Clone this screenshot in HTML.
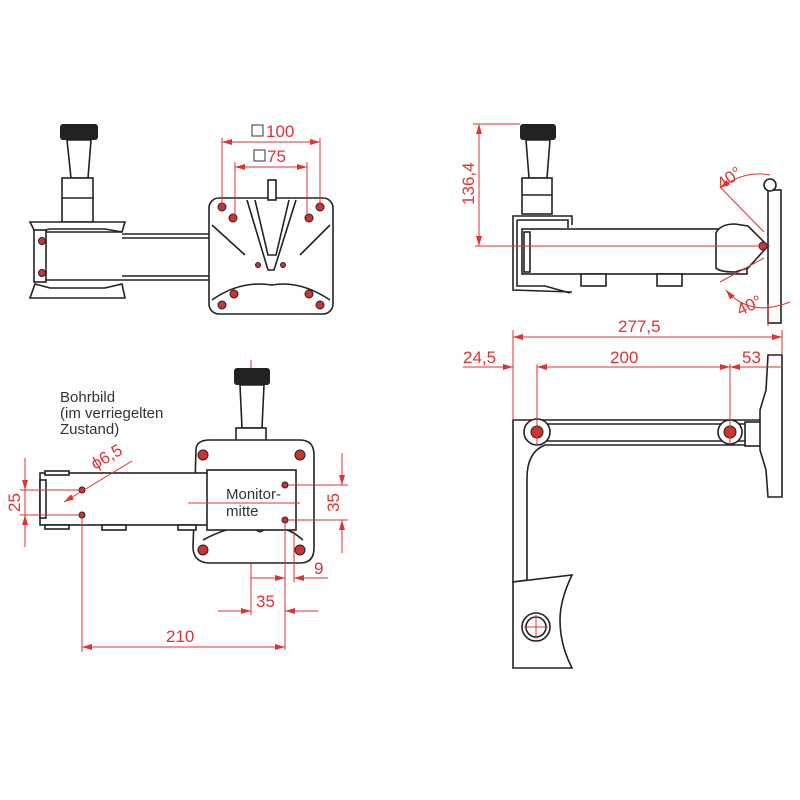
<!DOCTYPE html>
<html><head><meta charset="utf-8"><style>
html,body{margin:0;padding:0;background:#fff;width:800px;height:800px;overflow:hidden}
svg{display:block}
.k{fill:none;stroke:#222;stroke-width:1.6}
.kf{fill:#fff;stroke:#222;stroke-width:1.6}
.r{fill:none;stroke:#d33;stroke-width:1}
.rt{fill:#d33;font-family:"Liberation Sans",sans-serif;font-size:17px}
.bt{fill:#333;font-family:"Liberation Sans",sans-serif;font-size:15px}
.h{fill:#c33;stroke:#222;stroke-width:1}
</style></head><body>
<svg width="800" height="800" viewBox="0 0 800 800" xmlns="http://www.w3.org/2000/svg">
<defs>
<marker id="a" viewBox="0 0 10 6" refX="10" refY="3" markerWidth="10" markerHeight="6" orient="auto-start-reverse"><path d="M0,0L10,3L0,6z" fill="#d33"/></marker>
</defs>

<!-- ===== TOP LEFT VIEW ===== -->
<rect x="60" y="124" width="38" height="16" rx="3" fill="#222"/>
<path class="kf" d="M67,140 L91,140 L88,178 L71,178Z"/>
<rect class="kf" x="62" y="178" width="31" height="44"/>
<line class="k" x1="62" y1="198" x2="93" y2="198"/>
<path class="kf" d="M30,222 L125,222 L122,232 L105,229 L50,229 L35,232Z"/>
<rect class="kf" x="34" y="230" width="12" height="52"/>
<line class="k" x1="46" y1="232" x2="122" y2="232"/>
<line class="k" x1="46" y1="280" x2="122" y2="280"/>
<path class="kf" d="M30,298 L125,298 L122,284 L105,288 L50,288 L35,284Z"/>
<line class="k" x1="122" y1="234" x2="210" y2="234"/>
<line class="k" x1="122" y1="238" x2="210" y2="238"/>
<line class="k" x1="122" y1="276" x2="210" y2="276"/>
<line class="k" x1="122" y1="280" x2="210" y2="280"/>
<circle class="h" cx="42" cy="241" r="3.5"/><circle class="h" cx="42" cy="273" r="3.5"/>
<rect class="kf" x="209" y="198" width="124" height="116" rx="10"/>
<path class="k" d="M247,200 L268,270 L274,270 L296,200"/>
<path class="k" d="M255,200 L268,255 L276,255 L289,200"/>
<rect class="kf" x="268" y="180" width="8" height="20"/>
<path class="k" d="M212,300 Q240,280 272,285 Q300,280 330,300"/>
<path class="k" d="M212,225 L245,255 M330,225 L300,255"/>
<circle class="h" cx="222" cy="207" r="4"/><circle class="h" cx="320" cy="207" r="4"/>
<circle class="h" cx="233" cy="218" r="4"/><circle class="h" cx="309" cy="218" r="4"/>
<circle class="h" cx="222" cy="305" r="4"/><circle class="h" cx="234" cy="294" r="4"/>
<circle class="h" cx="309" cy="294" r="4"/><circle class="h" cx="320" cy="305" r="4"/>
<circle class="h" cx="258" cy="265" r="2.5"/><circle class="h" cx="283" cy="265" r="2.5"/>
<line class="r" x1="222" y1="138" x2="222" y2="205"/><line class="r" x1="320" y1="138" x2="320" y2="205"/>
<line class="r" x1="222" y1="142" x2="320" y2="142" marker-start="url(#a)" marker-end="url(#a)"/>
<line class="r" x1="235" y1="162" x2="235" y2="215"/><line class="r" x1="307" y1="162" x2="307" y2="215"/>
<line class="r" x1="235" y1="167" x2="307" y2="167" marker-start="url(#a)" marker-end="url(#a)"/>
<rect class="r" x="252" y="125" width="11" height="11" style="stroke:#333"/>
<text class="rt" x="266" y="137">100</text>
<rect class="r" x="254" y="150" width="11" height="11" style="stroke:#333"/>
<text class="rt" x="267" y="162">75</text>

<!-- ===== TOP RIGHT VIEW ===== -->
<rect x="520" y="124" width="36" height="16" rx="3" fill="#222"/>
<path class="kf" d="M526,140 L550,140 L547,178 L529,178Z"/>
<rect class="kf" x="522" y="178" width="30" height="36"/>
<line class="k" x1="522" y1="195" x2="552" y2="195"/>
<path class="k" d="M572,225 L572,216 L513,216 L513,290 L572,292"/>
<path class="k" d="M517,220 L568,220 L568,228 M517,220 L517,286 L545,286 L570,293"/>
<rect class="kf" x="522" y="229" width="225" height="45"/>
<rect class="k" x="524" y="232" width="6" height="40"/>
<rect class="kf" x="581" y="274" width="25" height="12"/><rect class="kf" x="657" y="274" width="25" height="12"/>
<path class="kf" d="M716,233 Q720,224 735,224 L748,226 L768,246 L748,268 L735,272 Q720,272 716,268Z"/>
<rect class="kf" x="768" y="190" width="13" height="133"/>
<circle class="kf" cx="770" cy="185" r="6"/>
<circle class="h" cx="763" cy="246" r="4"/>
<line class="r" x1="475" y1="246" x2="770" y2="246"/>
<line class="r" x1="473" y1="124" x2="520" y2="124"/>
<line class="r" x1="479" y1="124" x2="479" y2="246" marker-start="url(#a)" marker-end="url(#a)"/>
<text class="rt" transform="translate(474,205) rotate(-90)">136,4</text>
<path class="r" d="M720,188 Q745,170 770,175" marker-start="url(#a)"/>
<line class="r" x1="720" y1="187" x2="764" y2="232"/>
<line class="r" x1="720" y1="282" x2="764" y2="258"/>
<path class="r" d="M726,290 Q750,318 790,302" marker-start="url(#a)"/>
<line class="r" x1="768" y1="326" x2="768" y2="304"/>
<text class="rt" transform="translate(722,190) rotate(-35)">40°</text>
<text class="rt" transform="translate(740,316) rotate(-25)">40°</text>

<!-- ===== BOTTOM LEFT VIEW ===== -->
<line class="r" x1="251" y1="360" x2="251" y2="615"/>
<rect x="234" y="368" width="36" height="17" rx="3" fill="#222"/>
<path class="kf" d="M240,385 L264,385 L262,428 L242,428Z"/>
<rect class="kf" x="236" y="428" width="30" height="36"/>
<path class="kf" d="M196,450 Q196,440 210,440 L300,440 Q314,440 314,455 L314,548 Q314,563 300,563 L210,563 Q194,563 193,548Z"/>
<path class="k" d="M203,540 Q240,520 260,532 Q280,520 303,540"/>
<circle class="h" cx="203" cy="455" r="5"/><circle class="h" cx="300" cy="455" r="5"/>
<circle class="h" cx="203" cy="550" r="5"/><circle class="h" cx="300" cy="550" r="5"/>
<rect class="kf" x="40" y="473" width="172" height="52"/>
<rect class="kf" x="40" y="480" width="6" height="38"/>
<rect class="kf" x="45" y="471" width="24" height="4"/><rect class="kf" x="45" y="525" width="24" height="4"/>
<rect class="kf" x="102" y="525" width="24" height="5"/><rect class="kf" x="178" y="525" width="18" height="5"/>
<rect class="kf" x="207" y="470" width="89" height="60"/>
<circle class="h" cx="82" cy="490" r="3"/><circle class="h" cx="82" cy="515" r="3"/>
<circle class="h" cx="285" cy="485" r="3"/><circle class="h" cx="285" cy="520" r="3"/>
<line class="r" x1="188" y1="503" x2="300" y2="503"/>
<text class="bt" x="60" y="402">Bohrbild</text>
<text class="bt" x="60" y="418">(im verriegelten</text>
<text class="bt" x="60" y="434">Zustand)</text>
<text class="bt" x="226" y="499">Monitor-</text>
<text class="bt" x="226" y="516">mitte</text>
<line class="r" x1="64" y1="502" x2="132" y2="461" marker-start="url(#a)"/>
<text class="rt" transform="translate(95,470) rotate(-30)">ϕ6,5</text>
<line class="r" x1="20" y1="490" x2="80" y2="490"/><line class="r" x1="20" y1="515" x2="80" y2="515"/>
<line class="r" x1="25" y1="458" x2="25" y2="547"/>
<line class="r" x1="25" y1="460" x2="25" y2="490" marker-end="url(#a)"/>
<line class="r" x1="25" y1="545" x2="25" y2="515" marker-end="url(#a)"/>
<text class="rt" transform="translate(20,512) rotate(-90)">25</text>
<line class="r" x1="288" y1="485" x2="348" y2="485"/><line class="r" x1="288" y1="520" x2="348" y2="520"/>
<line class="r" x1="342" y1="453" x2="342" y2="485" marker-end="url(#a)"/>
<line class="r" x1="342" y1="553" x2="342" y2="520" marker-end="url(#a)"/>
<text class="rt" transform="translate(339,512) rotate(-90)">35</text>
<line class="r" x1="285" y1="522" x2="285" y2="650"/>
<line class="r" x1="294" y1="530" x2="294" y2="582"/>
<line class="r" x1="251" y1="578" x2="285" y2="578" marker-end="url(#a)"/>
<line class="r" x1="328" y1="578" x2="294" y2="578" marker-end="url(#a)"/>
<text class="rt" x="314" y="574">9</text>
<line class="r" x1="218" y1="611" x2="251" y2="611" marker-end="url(#a)"/>
<line class="r" x1="318" y1="611" x2="285" y2="611" marker-end="url(#a)"/>
<text class="rt" x="256" y="607">35</text>
<line class="r" x1="82" y1="518" x2="82" y2="652"/>
<line class="r" x1="82" y1="647" x2="285" y2="647" marker-start="url(#a)" marker-end="url(#a)"/>
<text class="rt" x="166" y="642">210</text>

<!-- ===== BOTTOM RIGHT VIEW ===== -->
<path class="kf" d="M513,420 L760,420 L760,445 L545,445 Q527,452 527,478 L527,580 L513,582Z"/>
<line class="k" x1="540" y1="424" x2="758" y2="424"/><line class="k" x1="540" y1="441" x2="758" y2="441"/>
<circle class="kf" cx="537" cy="432" r="13"/><circle class="h" cx="537" cy="432" r="6"/>
<circle class="kf" cx="730" cy="432" r="12"/><circle class="h" cx="730" cy="432" r="6"/>
<rect class="kf" x="745" y="422" width="24" height="24"/>
<path class="kf" d="M768,355 L782,355 L782,497 L768,497 L766,470 L760,450 L760,410 L766,390Z"/>
<path class="kf" d="M513,582 L572,575 Q560,600 560,620 Q560,645 572,668 L513,668Z"/>
<circle class="kf" cx="536" cy="627" r="14"/><circle class="k" cx="536" cy="627" r="10"/>
<line class="r" x1="524" y1="627" x2="548" y2="627"/><line class="r" x1="536" y1="615" x2="536" y2="639"/>
<line class="r" x1="513" y1="330" x2="513" y2="420"/>
<line class="r" x1="782" y1="330" x2="782" y2="355"/>
<line class="r" x1="513" y1="337" x2="782" y2="337" marker-start="url(#a)" marker-end="url(#a)"/>
<text class="rt" x="618" y="332">277,5</text>
<line class="r" x1="537" y1="364" x2="537" y2="445"/>
<line class="r" x1="730" y1="364" x2="730" y2="445"/>
<line class="r" x1="463" y1="367" x2="513" y2="367" marker-end="url(#a)"/>
<line class="r" x1="537" y1="367" x2="730" y2="367" marker-start="url(#a)" marker-end="url(#a)"/>
<line class="r" x1="760" y1="367" x2="782" y2="367"/>
<line class="r" x1="760" y1="367" x2="730" y2="367" marker-end="url(#a)"/>
<text class="rt" x="463" y="363">24,5</text>
<text class="rt" x="610" y="363">200</text>
<text class="rt" x="742" y="363">53</text>
</svg>
</body></html>
